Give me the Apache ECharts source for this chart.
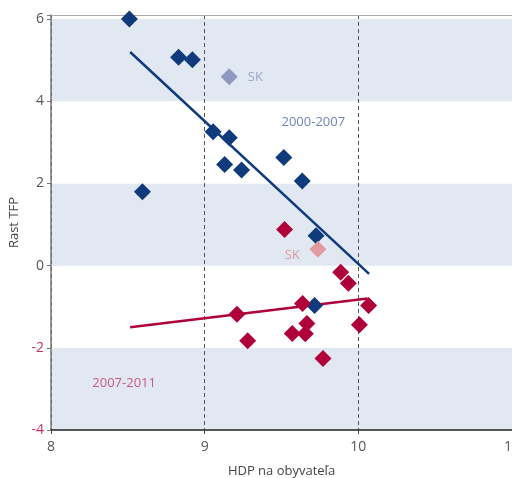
<!DOCTYPE html>
<html><head><meta charset="utf-8">
<script src="https://cdn.jsdelivr.net/npm/echarts@6/dist/echarts.min.js"></script>
<style>html,body{margin:0;padding:0;background:#fff}#c{width:512px;height:478px}</style>
</head><body><div id="c"></div>
<script>
// 2000-2007 (blue)
const blueX = [8.51, 8.83, 8.92, 8.595, 9.055, 9.16, 9.13, 9.24, 9.515, 9.635, 9.725, 9.715];
const blueY = [6.0, 5.07, 5.01, 1.80, 3.26, 3.11, 2.46, 2.33, 2.63, 2.06, 0.73, -0.97];
const blueSK = [9.16, 4.6];
const blueTrendX = [8.515, 10.07];
const blueTrendY = [5.2, -0.2];
// 2007-2011 (red)
const redX = [9.52, 9.21, 9.28, 9.637, 9.885, 9.935, 10.067, 9.665, 9.57, 9.655, 10.007, 9.77];
const redY = [0.88, -1.18, -1.83, -0.92, -0.16, -0.43, -0.97, -1.41, -1.65, -1.66, -1.44, -2.26];
const redSK = [9.737, 0.40];
const redTrendX = [8.515, 10.06];
const redTrendY = [-1.5, -0.8];
// annotations
const annotations = [
  {text: 'SK', x: 9.33, y: 4.59, color: '#8d93bd'},
  {text: '2000-2007', x: 9.707, y: 3.49, color: '#4a66a3'},
  {text: 'SK', x: 9.57, y: 0.26, color: '#d9888f'},
  {text: '2007-2011', x: 8.476, y: -2.86, color: '#c2336a'}
];
const xTicks = [8, 9, 10, 11];
const yTicks = [-4, -2, 0, 2, 4, 6];

const zip = (a, b) => a.map((v, i) => [v, b[i]]);
const font = 'Open Sans';
const chart = echarts.init(document.getElementById('c'));
chart.setOption({
  animation: false,
  grid: {left: 51, right: 0, top: 15, bottom: 48, containLabel: false, outerBoundsMode: 'none'},
  xAxis: [{
    type: 'value', min: xTicks[0], max: xTicks[xTicks.length - 1], interval: 1,
    name: 'HDP na obyvateľa', nameLocation: 'middle', nameGap: 35,
    nameTextStyle: {color: '#444', fontSize: 13, fontFamily: font},
    axisLine: {show: true, onZero: false, lineStyle: {color: '#222', width: 1.5}},
    axisTick: {show: true, length: 4, lineStyle: {color: '#444'}},
    axisLabel: {color: '#555', fontSize: 14, fontFamily: font, margin: 10},
    splitLine: {show: true, lineStyle: {color: '#555', type: [4, 3], width: 1}}
  }, {
    type: 'value', position: 'top', min: 8, max: 11,
    axisLine: {show: true, onZero: false, lineStyle: {color: '#aaa', width: 1}},
    axisTick: {show: false}, axisLabel: {show: false}, splitLine: {show: false}
  }],
  yAxis: {
    type: 'value', min: yTicks[0], max: 6.1, interval: 2,
    name: 'Rast TFP', nameLocation: 'middle', nameGap: 28,
    nameTextStyle: {color: '#444', fontSize: 13, fontFamily: font},
    axisLine: {show: true, onZero: false, lineStyle: {color: '#777', width: 1.5}},
    axisTick: {show: true, length: 4, lineStyle: {color: '#777'}},
    axisLabel: {
      fontSize: 14, fontFamily: font, margin: 7,
      formatter: v => (yTicks.indexOf(v) >= 0 ? String(v) : ''),
      color: v => (Number(v) < 0 ? '#c2336a' : '#555')
    },
    splitLine: {show: false},
    splitArea: {show: true, areaStyle: {color: ['#e2e8f2', '#ffffff']}}
  },
  series: [
    {type: 'line', data: zip(blueTrendX, blueTrendY), symbol: 'none', z: 3,
     lineStyle: {color: '#0f3a7c', width: 2.5}},
    {type: 'line', data: zip(redTrendX, redTrendY), symbol: 'none', z: 3,
     lineStyle: {color: '#b0003c', width: 2.5}},
    {type: 'scatter', data: zip(blueX, blueY), symbol: 'diamond', symbolSize: 17, z: 4,
     itemStyle: {color: '#0f3a7c', opacity: 1}},
    {type: 'scatter', data: [blueSK], symbol: 'diamond', symbolSize: 17, z: 4,
     itemStyle: {color: '#9097c0', opacity: 1}},
    {type: 'scatter', data: zip(redX, redY), symbol: 'diamond', symbolSize: 17, z: 5,
     itemStyle: {color: '#b0003c', opacity: 1}},
    {type: 'scatter', data: [redSK], symbol: 'diamond', symbolSize: 17, z: 5,
     itemStyle: {color: '#e09aa0', opacity: 1}},
    {type: 'scatter', symbolSize: 0, z: 6, silent: true,
     data: annotations.map(a => ({value: [a.x, a.y],
       label: {show: true, position: 'inside', formatter: a.text, color: a.color,
               fontSize: 13, fontFamily: font}}))}
  ]
});
</script></body></html>
